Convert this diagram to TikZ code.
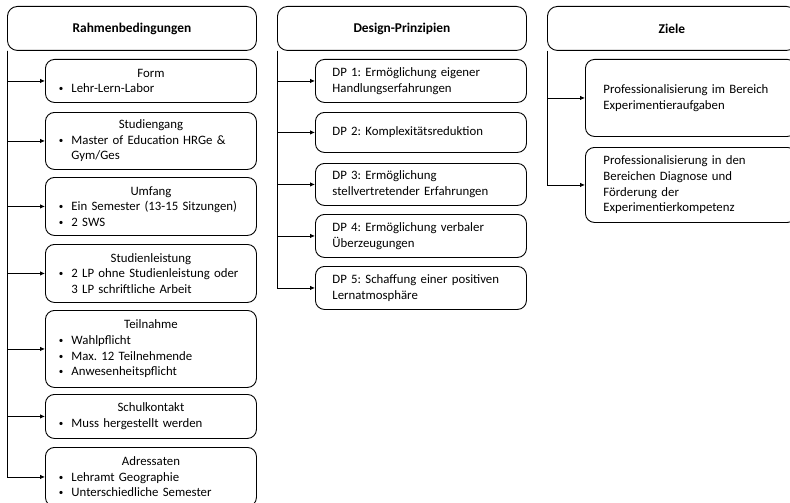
\documentclass[tikz,border=0pt]{standalone}
\usepackage{fontspec}
\setmainfont{Carlito}
\usetikzlibrary{arrows.meta}
\frenchspacing
% bullet line and continuation line inside the condition boxes
\newcommand{\bul}{\makebox[13pt][l]{\hspace*{0.5pt}\raisebox{1pt}{\fontsize{9}{9}\selectfont\textbullet}}}
\newcommand{\bli}[1]{\makebox[185pt][l]{\bul #1}}
\newcommand{\cli}[1]{\makebox[185pt][l]{\hspace*{13pt}#1}}

\begin{document}
\begin{tikzpicture}[x=1pt,y=-1pt,
  every node/.style={font=\fontsize{12.8}{15.6}\selectfont},
  box/.style={draw, line width=0.9pt, rounded corners=9pt, anchor=north west, inner ysep=0pt},
  header/.style={box, rounded corners=10pt, minimum width=249pt, minimum height=44pt,
    font=\fontsize{13.4}{15.6}\selectfont\bfseries},
  rbox/.style={box, text width=185pt, inner xsep=13pt, align=center},
  lbox/.style={box, text width=177pt, inner xsep=17pt, align=left},
  zbox/.style={box, text width=175pt, inner xsep=18pt, align=left},
  conn/.style={line width=0.8pt, -{Latex[length=5pt,width=4.5pt]}}
]
\useasboundingbox (0,0) rectangle (790,503);
\clip (0,0) rectangle (790,503);

% column 1: framework conditions
\node[header] (rb) at (7,6) {Rahmenbedingungen};
\node[rbox, minimum height=43pt] (form) at (45,59) {Form\\ \bli{Lehr-Lern-Labor}};
\node[rbox, minimum height=57pt] (stg) at (45,112) {Studiengang\\ \bli{Master of Education HRGe \&}\\ \cli{Gym/Ges}};
\node[rbox, minimum height=58pt] (umf) at (45,177) {Umfang\\ \bli{Ein Semester (13-15 Sitzungen)}\\ \bli{2 SWS}};
\node[rbox, minimum height=58pt] (stl) at (45,244) {Studienleistung\\ \bli{2 LP ohne Studienleistung oder}\\ \cli{3 LP schriftliche Arbeit}};
\node[rbox, minimum height=77pt] (tln) at (45,310) {Teilnahme\\ \bli{Wahlpflicht}\\ \bli{Max. 12 Teilnehmende}\\ \bli{Anwesenheitspflicht}};
\node[rbox, minimum height=44pt] (sk) at (45,394) {Schulkontakt\\ \bli{Muss hergestellt werden}};
\node[rbox, minimum height=59pt] (adr) at (45,447) {Adressaten\\ \bli{Lehramt Geographie}\\ \bli{Unterschiedliche Semester}};

% column 2: design principles
\node[header] (dp) at (277,6) {Design-Prinzipien};
\node[lbox, minimum height=43pt] (dp1) at (315,59) {DP 1: Ermöglichung eigener\\ Handlungserfahrungen};
\node[lbox, minimum height=40pt] (dp2) at (315,112) {DP 2: Komplexitätsreduktion};
\node[lbox, minimum height=42pt] (dp3) at (315,163) {DP 3: Ermöglichung\\ stellvertretender Erfahrungen};
\node[lbox, minimum height=43pt] (dp4) at (315,214) {DP 4: Ermöglichung verbaler\\ Überzeugungen};
\node[lbox, minimum height=43pt] (dp5) at (315,266) {DP 5: Schaffung einer positiven\\ Lernatmosphäre};

% column 3: goals
\node[header] (zi) at (547,6) {Ziele};
\node[zbox, minimum height=77pt] (z1) at (585,59) {\mbox{Professionalisierung im Bereich}\\ Experimentieraufgaben};
\node[zbox, minimum height=75pt] (z2) at (585,147) {Professionalisierung in den\\ Bereichen Diagnose und\\ Förderung der\\ Experimentierkompetenz};

% connectors from each header down its left edge
\foreach \c in {form,stg,umf,stl,tln,sk,adr}
  \draw[conn] (rb.south west) |- (\c.west);
\foreach \c in {dp1,dp2,dp3,dp4,dp5}
  \draw[conn] (dp.south west) |- (\c.west);
\foreach \c in {z1,z2}
  \draw[conn] (zi.south west) |- (\c.west);
\end{tikzpicture}
\end{document}
